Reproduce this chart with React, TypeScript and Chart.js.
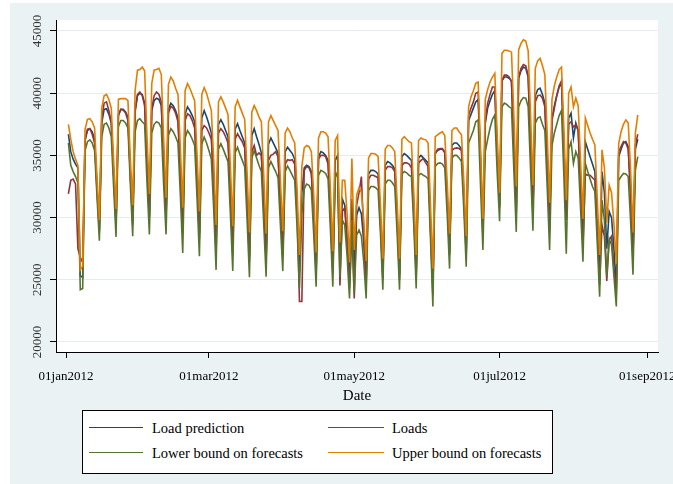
import React, { useEffect, useRef } from 'react';
import { Chart, registerables } from 'chart.js';

Chart.register(...registerables);

// Day index 0 = 01jan2012; data run daily from 02jan2012 (day 1) to 28aug2012 (day 240)
const FIRST_DAY = 1;

const TICK_DAYS = [0, 60, 121, 182, 244];
const TICK_LABELS = ['01jan2012', '01mar2012', '01may2012', '01jul2012', '01sep2012'];
const Y_TICKS = [20000, 25000, 30000, 35000, 40000, 45000];

// one line per week: Mon..Sun
const prediction = [
  36700, 35300, 34700, 34300, 34000, 25300, 25200,
  36200, 37000, 37150, 36900, 36300, 32500, 29000,
  37600, 38700, 38760, 38300, 37600, 33500, 29600,
  38200, 38700, 38700, 38500, 38100, 33600, 29700,
  38500, 39800, 40000, 39900, 39200, 34500, 30200,
  38600, 39400, 39600, 39500, 39000, 34400, 30000,
  38700, 39200, 39000, 38600, 38000, 33800, 29000,
  38300, 38900, 38600, 38200, 37700, 33400, 28700,
  38000, 38600, 38100, 37500, 36800, 32800, 27500,
  37500, 37870, 37500, 37000, 36500, 32300, 27400,
  37100, 37550, 37000, 36500, 36000, 31800, 26900,
  36600, 37150, 36500, 35900, 35200, 31000, 26700,
  35900, 36400, 36000, 35600, 35200, 31200, 27000,
  35300, 35650, 35400, 35150, 34700, 30800, 25700,
  32000, 34000, 34200, 34100, 33700, 30200, 25800,
  34900, 35300, 35200, 35000, 34600, 30500, 25900,
  34600, 35000, 26500, 31500, 31000, 28500, 24900,
  31500, 25500, 30200, 30800, 30300, 28000, 24900,
  33500, 33800, 33800, 33700, 33500, 29800, 25400,
  34200, 34500, 34400, 34200, 33900, 30000, 25400,
  34900, 35150, 35000, 34800, 34600, 30600, 25500,
  34800, 35000, 34800, 34600, 34400, 29500, 24400,
  35200, 35400, 35500, 35500, 35200, 31500, 27200,
  35800, 36000, 36000, 35800, 35500, 31800, 27300,
  37800, 38300, 38800, 39300, 39500, 34500, 28600,
  37600, 38800, 39400, 39900, 40200, 35000, 30800,
  41000, 41300, 41300, 41200, 41000, 35800, 30500,
  41200, 41800, 42100, 42000, 41300, 36000, 30600,
  39800, 40300, 40400, 39900, 39200, 34500, 29200,
  38000, 39000, 39800, 40500, 40800, 35500, 29800,
  38000, 38400, 36400, 37600, 37000, 32500, 28000,
  36100, 35500, 34900, 34300, 33700, 29500, 25000,
  33700, 32000, 27500, 30500, 30000, 27500, 24300,
  34900, 35500, 36000, 36100, 35700, 32000, 27000,
  35500, 36300,
];

const loads = [
  31900, 33000, 33100, 32700, 27500, 26800, 26400,
  36300, 37100, 37150, 36700, 36000, 32300, 28800,
  38000, 39200, 39300, 38600, 37700, 33400, 29300,
  38300, 38700, 38650, 38400, 37800, 33400, 29400,
  38600, 39900, 40100, 39800, 39000, 34300, 30000,
  38800, 39800, 40100, 39900, 39300, 34600, 30100,
  38400, 38950, 38800, 38400, 37700, 33500, 28700,
  37800, 38350, 38200, 37800, 37200, 33000, 28300,
  37000, 37400, 37200, 36800, 36300, 32300, 27100,
  36800, 37150, 36900, 36500, 36000, 32000, 27000,
  36300, 36740, 36400, 36100, 35600, 31400, 26500,
  35300, 35800, 35000, 35200, 35000, 30800, 26500,
  34600, 35000, 35100, 35300, 34900, 30900, 26800,
  34300, 34650, 34600, 34650, 34300, 30400, 23250,
  23250, 33800, 34100, 34000, 33500, 29800, 25400,
  34700, 35000, 35000, 34900, 34300, 30200, 25500,
  33500, 33300, 24550, 30500, 30800, 27800, 24300,
  29000, 23500, 31000, 32000, 33300, 28500, 24600,
  33100, 33400, 33400, 33300, 33200, 29500, 25000,
  33800, 34100, 34100, 34000, 33700, 29700, 25000,
  34200, 34400, 34400, 34300, 34000, 30200, 25200,
  34400, 34600, 34750, 34400, 34100, 29000, 23800,
  35100, 35500, 35550, 35550, 35300, 31400, 27000,
  35400, 35550, 35600, 35550, 35400, 31500, 27000,
  38200, 38800, 39300, 40000, 40100, 34800, 28800,
  37800, 39200, 39900, 40500, 40500, 35400, 31000,
  41000, 41450, 41450, 41300, 40900, 35600, 30300,
  41300, 42000, 42300, 42200, 41400, 35900, 30400,
  39300, 39800, 39850, 39600, 38900, 34200, 28800,
  37800, 38800, 39800, 40600, 41000, 35700, 29900,
  37500, 37700, 37300, 37450, 37000, 32400, 27700,
  33500, 33400, 33400, 33200, 33000, 29000, 24600,
  29400, 28500, 24900, 28200, 28500, 26000, 23800,
  35300, 35700, 36100, 36000, 35500, 31800, 26700,
  35800, 36700,
];

const lowerBound = [
  36000, 34200, 33700, 33300, 32800, 24200, 24300,
  35400, 36100, 36250, 36000, 35400, 31700, 28150,
  36500, 37500, 37600, 37200, 36500, 32400, 28450,
  37300, 37800, 37800, 37600, 37200, 32700, 28500,
  36900, 37800, 37950, 37700, 37500, 32800, 28650,
  36800, 37500, 37700, 37600, 37200, 32600, 28650,
  36600, 37150, 36900, 36500, 36000, 31800, 27150,
  36400, 37000, 36700, 36300, 35800, 31600, 26900,
  35900, 36470, 36000, 35400, 34700, 30700, 25800,
  35500, 35930, 35500, 35000, 34500, 30300, 25700,
  35200, 35660, 35100, 34600, 34100, 29900, 25200,
  34800, 35400, 34800, 34200, 33700, 29500, 25250,
  34000, 34500, 34100, 33700, 33200, 29400, 25700,
  33700, 34150, 33800, 33400, 33000, 29200, 24300,
  30300, 32300, 32700, 32600, 32200, 28600, 24450,
  33400, 33800, 33700, 33550, 33100, 29000, 24450,
  33200, 33700, 25200, 29800, 29400, 26900, 23500,
  29800, 24000, 28600, 29000, 28500, 26400, 23500,
  32200, 32500, 32500, 32400, 32200, 28700, 24200,
  32700, 33000, 33000, 32800, 32500, 28700, 24200,
  33500, 33700, 33600, 33400, 33300, 29300, 24300,
  33400, 33550, 33400, 33300, 33100, 28300, 22850,
  34100, 34350, 34400, 34300, 34000, 30300, 25900,
  34800, 35000, 35000, 34800, 34500, 30600, 26050,
  36000, 36500, 37000, 37700, 37850, 32600, 27400,
  35300, 36300, 37200, 37900, 38250, 33600, 29700,
  38900, 39200, 39100, 38900, 38800, 33800, 28850,
  38900, 39400, 39650, 39600, 38900, 33900, 28950,
  37600, 38000, 38100, 37500, 37000, 32400, 27400,
  35800, 36800, 37500, 38200, 38600, 33300, 27100,
  35500, 36100, 34350, 35300, 34800, 30700, 26450,
  34350, 33700, 33100, 32500, 32100, 28000, 23640,
  31400, 29800, 25300, 28300, 27800, 25300, 22850,
  33000, 33300, 33550, 33500, 33300, 29700, 25400,
  33800, 34900,
];

const upperBound = [
  37500, 36300, 35300, 34700, 34200, 25800, 26100,
  37100, 37900, 37950, 37700, 37200, 33300, 29800,
  38800, 39800, 39900, 39500, 38800, 34600, 30700,
  39500, 39560, 39560, 39560, 39400, 34700, 31000,
  40200, 41850, 41900, 42100, 41800, 36500, 31900,
  40800, 41850, 41900, 42000, 41500, 36300, 31600,
  40700, 41300, 41000, 40400, 39900, 35600, 30800,
  40200, 40770, 40400, 39900, 39400, 35100, 30500,
  39900, 40450, 40000, 39300, 38600, 34600, 29400,
  39300, 39700, 39300, 38800, 38300, 34100, 29300,
  38900, 39430, 38900, 38400, 37900, 33700, 28800,
  38500, 39000, 38600, 38100, 37700, 33400, 28700,
  37700, 38200, 37800, 37400, 37000, 33000, 28900,
  36800, 37200, 36900, 36400, 36000, 32300, 27000,
  34100, 35600, 35800, 35700, 35300, 31800, 27200,
  36400, 36900, 36900, 36800, 36500, 32200, 27300,
  36200, 36600, 28000, 33000, 33000, 30300, 26400,
  34750, 27400, 31800, 32400, 32000, 29800, 26500,
  34800, 35150, 35150, 35100, 34900, 31000, 26700,
  35500, 35800, 35800, 35600, 35300, 31300, 26700,
  36300, 36500, 36300, 36100, 36000, 32000, 27000,
  36200, 36400, 36300, 36250, 36000, 31000, 25900,
  36500, 36650, 36800, 36900, 36600, 32900, 28700,
  37000, 37200, 37200, 36900, 36650, 32900, 28500,
  38900, 39700, 40200, 40800, 40900, 35600, 29900,
  39500, 40300, 40900, 41300, 41600, 36700, 32000,
  43200, 43450, 43450, 43400, 43300, 38200, 32500,
  43500, 44000, 44300, 44200, 43400, 38300, 32600,
  42000, 42600, 42800, 42200, 41500, 36700, 31200,
  39500, 40600, 41300, 41900, 42100, 37100, 31400,
  40000, 40500, 38900, 39600, 39000, 34500, 29900,
  38000, 37400, 36800, 36300, 35850, 31600, 27000,
  35450, 34000, 29600, 32600, 32000, 29500, 26300,
  35950, 36900, 37500, 37850, 37600, 33800, 28800,
  36800, 38250,
];

const SERIES = [
  { label: 'Load prediction', values: prediction, color: '#1a476f' },
  { label: 'Loads', values: loads, color: '#90353b' },
  { label: 'Lower bound on forecasts', values: lowerBound, color: '#55752f' },
  { label: 'Upper bound on forecasts', values: upperBound, color: '#e37e00' },
];

const FONT = '"Liberation Serif", "Times New Roman", serif';
const BG = '#eaf2f3';

const plotBg = {
  id: 'plotBg',
  beforeDraw(chart: any) {
    const { ctx, chartArea } = chart;
    ctx.save();
    ctx.fillStyle = '#ffffff';
    ctx.fillRect(chartArea.left, chartArea.top, chartArea.right - chartArea.left, chartArea.bottom - chartArea.top);
    ctx.restore();
  },
};

const yLabels = {
  id: 'yLabels',
  afterDraw(chart: any) {
    const { ctx } = chart;
    const scale = chart.scales.y;
    ctx.save();
    ctx.fillStyle = '#333333';
    ctx.font = `13px ${FONT}`;
    ctx.textAlign = 'center';
    ctx.textBaseline = 'middle';
    for (const t of scale.ticks) {
      const y = scale.getPixelForValue(t.value);
      ctx.save();
      ctx.translate(scale.right - 18, y);
      ctx.rotate(-Math.PI / 2);
      ctx.fillText(String(t.value), 0, 0);
      ctx.restore();
    }
    ctx.restore();
  },
};

export default function App() {
  const ref = useRef<HTMLCanvasElement>(null);

  useEffect(() => {
    if (!ref.current) return;
    const toPoints = (vals: number[]) => vals.map((v, i) => ({ x: FIRST_DAY + i, y: v }));
    const chart = new Chart(ref.current, {
      type: 'line',
      data: {
        datasets: SERIES.map((s, i) => ({
          label: s.label,
          data: toPoints(s.values),
          borderColor: s.color,
          backgroundColor: s.color,
          borderWidth: 1.6,
          pointRadius: 0,
          tension: 0,
          fill: false,
          order: SERIES.length - i,
        })),
      },
      options: {
        responsive: false,
        animation: false,
        layout: { padding: { top: 17, right: 15, left: 0, bottom: 0 } },
        plugins: { legend: { display: false }, tooltip: { enabled: false } },
        scales: {
          x: {
            type: 'linear',
            min: -4.2,
            max: 248.5,
            afterBuildTicks: (s: any) => {
              s.ticks = TICK_DAYS.map((v) => ({ value: v }));
            },
            afterFit: (s: any) => {
              s.height = 55;
              s.paddingLeft = 0;
              s.paddingRight = 0;
            },
            ticks: {
              autoSkip: false,
              maxRotation: 0,
              minRotation: 0,
              padding: 11,
              color: '#000',
              font: { family: FONT, size: 13 },
              callback: (v: any) => TICK_LABELS[TICK_DAYS.indexOf(Number(v))],
            },
            grid: { drawOnChartArea: false, drawTicks: true, tickLength: 6, tickColor: '#000', tickWidth: 1 },
            border: { display: true, color: '#000', width: 1 },
            title: {
              display: true,
              text: 'Date',
              color: '#000',
              font: { family: FONT, size: 15 },
              padding: { top: 0, bottom: 2 },
            },
          },
          y: {
            type: 'linear',
            min: 19196,
            max: 45884,
            afterBuildTicks: (s: any) => {
              s.ticks = Y_TICKS.map((v) => ({ value: v }));
            },
            afterFit: (s: any) => {
              s.width = 46;
              s.paddingTop = 0;
              s.paddingBottom = 0;
            },
            ticks: { display: false },
            grid: { color: '#e3ecee', lineWidth: 1, drawTicks: true, tickLength: 6, tickColor: '#000', tickWidth: 1 },
            border: { display: true, color: '#000', width: 1 },
          },
        },
      },
      plugins: [plotBg, yLabels],
    });
    return () => chart.destroy();
  }, []);

  const legendItem = (i: number, lineLeft: number, lineW: number, textLeft: number, cy: number) => (
    <React.Fragment key={i}>
      <div
        style={{
          position: 'absolute',
          left: lineLeft,
          top: cy - 1,
          width: lineW,
          height: 0,
          borderTop: `1.5px solid ${SERIES[i].color}`,
        }}
      />
      <div
        style={{
          position: 'absolute',
          left: textLeft,
          top: cy - 10,
          height: 20,
          lineHeight: '20px',
          fontFamily: FONT,
          fontSize: 14.5,
          color: '#000',
          whiteSpace: 'nowrap',
        }}
      >
        {SERIES[i].label}
      </div>
    </React.Fragment>
  );

  return (
    <div style={{ position: 'absolute', left: 10, top: 3, width: 663, height: 481, background: BG, overflow: 'hidden' }}>
      <canvas ref={ref} width={663} height={404} style={{ position: 'absolute', left: 0, top: 0, display: 'block' }} />
      <div
        style={{
          position: 'absolute',
          left: 72,
          top: 407,
          width: 471,
          height: 64,
          boxSizing: 'border-box',
          border: '1px solid #000',
          background: '#fff',
        }}
      >
        {legendItem(0, 6, 54, 69, 17)}
        {legendItem(1, 245, 56, 309, 17)}
        {legendItem(2, 6, 54, 69, 42)}
        {legendItem(3, 245, 56, 309, 42)}
      </div>
    </div>
  );
}
